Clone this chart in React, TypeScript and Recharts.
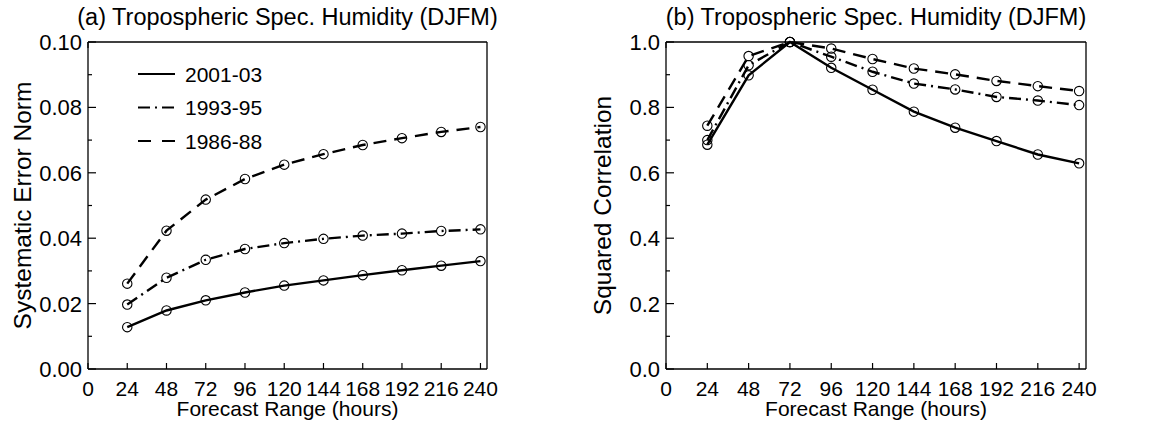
import React from "react";
import { LineChart, Line, XAxis, YAxis, Legend, Label } from "recharts";

const hours = [24, 48, 72, 96, 120, 144, 168, 192, 216, 240];
const hourTicks = [0, 24, 48, 72, 96, 120, 144, 168, 192, 216, 240];

// (a) systematic error norm
const err0103 = [0.0128, 0.0179, 0.021, 0.0234, 0.0255, 0.0271, 0.0287, 0.0302, 0.0316, 0.033];
const err9395 = [0.0197, 0.0279, 0.0334, 0.0367, 0.0385, 0.0398, 0.0408, 0.0414, 0.0422, 0.0427];
const err8688 = [0.0261, 0.0423, 0.0518, 0.0581, 0.0625, 0.0657, 0.0685, 0.0706, 0.0725, 0.074];

// (b) squared correlation
const corr0103 = [0.686, 0.898, 1.0, 0.921, 0.854, 0.787, 0.738, 0.697, 0.656, 0.629];
const corr9395 = [0.7, 0.929, 1.0, 0.955, 0.909, 0.873, 0.855, 0.832, 0.821, 0.807];
const corr8688 = [0.744, 0.957, 1.0, 0.98, 0.948, 0.919, 0.901, 0.881, 0.865, 0.85];

const errTicks = [0, 0.01, 0.02, 0.03, 0.04, 0.05, 0.06, 0.07, 0.08, 0.09, 0.1];
const errLabels = [0, 0.02, 0.04, 0.06, 0.08, 0.1];
const corrTicks = [0, 0.1, 0.2, 0.3, 0.4, 0.5, 0.6, 0.7, 0.8, 0.9, 1.0];
const corrLabels = [0, 0.2, 0.4, 0.6, 0.8, 1.0];

const seriesDefs = [
  { key: "p0103", name: "2001-03", dash: undefined as string | undefined, legendDash: undefined as string | undefined },
  { key: "p9395", name: "1993-95", dash: "12 5 2 5", legendDash: "12 5 2 5" },
  { key: "p8688", name: "1986-88", dash: "13 8", legendDash: "13 11" },
];

const errData = hours.map((h, i) => ({ h, p0103: err0103[i], p9395: err9395[i], p8688: err8688[i] }));
const corrData = hours.map((h, i) => ({ h, p0103: corr0103[i], p9395: corr9395[i], p8688: corr8688[i] }));

const FONT = 21;
const YFONT = 22;
const isIn = (v: number, list: number[]) => list.some((m) => Math.abs(m - v) < 1e-9);

const Ring = (p: any) =>
  p.cx == null ? null : (
    <circle key={`dot-${p.index}`} cx={p.cx} cy={p.cy} r={4.7} fill="none" stroke="#000" strokeWidth={1.1} />
  );

const leftTick = (majors: number[], digits: number) => (p: any) => {
  const v = p.payload.value;
  const major = isIn(v, majors);
  return (
    <g>
      <line x1={p.x} x2={p.x + (major ? 8 : 4)} y1={p.y} y2={p.y} stroke="#000" strokeWidth={1.2} />
      {major && (
        <text x={p.x - 6} y={p.y + 8} textAnchor="end" fontSize={YFONT} fill="#000">
          {v.toFixed(digits)}
        </text>
      )}
    </g>
  );
};

const rightTick = (majors: number[]) => (p: any) => {
  const major = isIn(p.payload.value, majors);
  return <line x1={p.x} x2={p.x - (major ? 8 : 4)} y1={p.y} y2={p.y} stroke="#000" strokeWidth={1.2} />;
};

const bottomTick = (p: any) => (
  <g>
    <line x1={p.x} x2={p.x} y1={p.y} y2={p.y - 6} stroke="#000" strokeWidth={1.2} />
    <text x={p.x} y={p.y + 27} textAnchor="middle" fontSize={FONT} fill="#000">
      {p.payload.value}
    </text>
  </g>
);

const topTick = (p: any) => <line x1={p.x} x2={p.x} y1={p.y} y2={p.y + 6} stroke="#000" strokeWidth={1.2} />;

const renderLegend = () => (
  <svg width={170} height={100}>
    {seriesDefs.map((s, i) => (
      <g key={s.name}>
        <line x1={0} x2={37} y1={12 + i * 33.5} y2={12 + i * 33.5} stroke="#000" strokeWidth={2} strokeDasharray={s.legendDash} />
        <text x={47} y={12 + i * 33.5 + 7.5} fontSize={FONT} fill="#000">
          {s.name}
        </text>
      </g>
    ))}
  </svg>
);

interface PanelProps {
  data: any[];
  title: string;
  yLabel: string;
  yTicks: number[];
  yMajors: number[];
  digits: number;
  margin: { top: number; right: number; bottom: number; left: number };
  yLabelX: number;
  legend?: boolean;
}

function Panel({ data, title, yLabel, yTicks, yMajors, digits, margin, yLabelX, legend }: PanelProps) {
  const width = 575;
  const height = 432;
  const plotLeft = margin.left + 60;
  const plotRight = width - margin.right - 10;
  const plotTop = margin.top + 10;
  const plotBottom = height - margin.bottom - 45;
  const cx = (plotLeft + plotRight) / 2;
  const cy = (plotTop + plotBottom) / 2;
  return (
    <LineChart width={width} height={height} data={data} margin={margin}>
      <XAxis
        xAxisId="bottom"
        dataKey="h"
        type="number"
        domain={[0, 244]}
        ticks={hourTicks}
        interval={0}
        height={45}
        tickSize={0}
        tickMargin={0}
        tickLine={false}
        tick={bottomTick}
        axisLine={{ stroke: "#000", strokeWidth: 1.3 }}
      >
        <Label
          content={() => (
            <text x={cx} y={plotBottom + 47} textAnchor="middle" fontSize={FONT} fill="#000">
              Forecast Range (hours)
            </text>
          )}
        />
      </XAxis>
      <XAxis
        xAxisId="top"
        orientation="top"
        type="number"
        domain={[0, 244]}
        ticks={hourTicks}
        interval={0}
        height={10}
        tickSize={0}
        tickMargin={0}
        tickLine={false}
        tick={topTick}
        axisLine={{ stroke: "#000", strokeWidth: 1.3 }}
      >
        <Label
          content={() => (
            <text x={cx} y={plotTop - 17} textAnchor="middle" fontSize={23.5} fill="#000">
              {title}
            </text>
          )}
        />
      </XAxis>
      <YAxis
        yAxisId="left"
        type="number"
        domain={[yTicks[0], yTicks[yTicks.length - 1]]}
        ticks={yTicks}
        interval={0}
        width={60}
        tickSize={0}
        tickMargin={0}
        tickLine={false}
        tick={leftTick(yMajors, digits)}
        axisLine={{ stroke: "#000", strokeWidth: 1.3 }}
      >
        <Label
          content={() => (
            <text
              x={yLabelX}
              y={cy + 8.5}
              transform={`rotate(-90 ${yLabelX} ${cy})`}
              textAnchor="middle"
              fontSize={24.5}
              fill="#000"
            >
              {yLabel}
            </text>
          )}
        />
      </YAxis>
      <YAxis
        yAxisId="right"
        orientation="right"
        type="number"
        domain={[yTicks[0], yTicks[yTicks.length - 1]]}
        ticks={yTicks}
        interval={0}
        width={10}
        tickSize={0}
        tickMargin={0}
        tickLine={false}
        tick={rightTick(yMajors)}
        axisLine={{ stroke: "#000", strokeWidth: 1.3 }}
      />
      {legend && (
        <Legend
          layout="vertical"
          align="center"
          verticalAlign="middle"
          content={renderLegend}
          wrapperStyle={{ left: 138, top: 62, width: 170, height: 100 }}
        />
      )}
      {seriesDefs.map((s) => (
        <Line
          key={s.key}
          xAxisId="bottom"
          yAxisId="left"
          dataKey={s.key}
          name={s.name}
          type="linear"
          stroke="#000"
          strokeWidth={2.4}
          strokeDasharray={s.dash}
          dot={Ring}
          activeDot={false}
          isAnimationActive={false}
        />
      ))}
    </LineChart>
  );
}

export default function App() {
  return (
    <div
      style={{
        position: "absolute",
        left: 0,
        top: 0,
        width: 1151,
        height: 432,
        background: "#fff",
        fontFamily: '"Liberation Sans", Arial, sans-serif',
      }}
    >
      <div style={{ position: "absolute", left: 0, top: 0 }}>
        <Panel
          data={errData}
          title="(a) Tropospheric Spec. Humidity (DJFM)"
          yLabel="Systematic Error Norm"
          yTicks={errTicks}
          yMajors={errLabels}
          digits={2}
          margin={{ top: 32, right: 78, bottom: 18, left: 28 }}
          yLabelX={22}
          legend
        />
      </div>
      <div style={{ position: "absolute", left: 576, top: 0 }}>
        <Panel
          data={corrData}
          title="(b) Tropospheric Spec. Humidity (DJFM)"
          yLabel="Squared Correlation"
          yTicks={corrTicks}
          yMajors={corrLabels}
          digits={1}
          margin={{ top: 32, right: 55, bottom: 18, left: 30 }}
          yLabelX={26}
        />
      </div>
    </div>
  );
}
